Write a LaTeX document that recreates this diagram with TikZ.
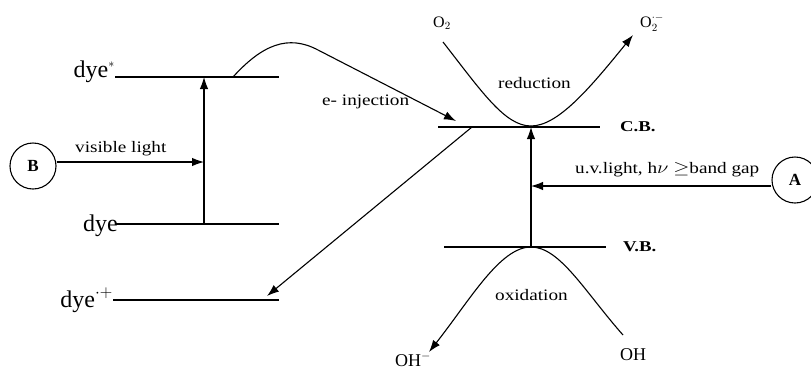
\documentclass[tikz,border=0pt]{standalone}
\usepackage{fontspec}
\setmainfont{Liberation Serif}
\usetikzlibrary{arrows.meta}
\newcommand{\wtxt}[1]{\scalebox{1.2}[1]{#1}}
\tikzset{
  ln/.style={line width=1.1pt},
  arr/.style={ln,-{Latex[length=12pt,width=8.5pt]}},
  small/.style={font=\fontsize{16}{18}\selectfont, inner sep=0pt},
  big/.style={font=\fontsize{24}{26}\selectfont, inner sep=0pt},
  band/.style={font=\fontsize{15}{17}\selectfont\bfseries, inner sep=0pt},
  circ/.style={circle, draw, line width=1.1pt, minimum size=46pt, inner sep=0pt, font=\fontsize{17}{19}\selectfont\bfseries},
  chem/.style={font=\fontsize{16}{18}\selectfont, inner sep=0pt},
}
\begin{document}
\begin{tikzpicture}[x=1pt,y=-1pt]
\useasboundingbox (0,0) rectangle (811,373);
% dye levels
\coordinate (ds1) at (115,77);  \coordinate (ds2) at (279,77);
\coordinate (d1)  at (115,224); \coordinate (d2)  at (279,224);
\coordinate (dp1) at (113,300); \coordinate (dp2) at (279,300);
\draw[ln] (ds1) -- (ds2);
\draw[ln] (d1) -- (d2);
\draw[ln] (dp1) -- (dp2);
\node[big, anchor=base east] (ldstar) at (115,77) {dye$^{\scriptscriptstyle *}$};
\node[big, anchor=base east] (ldye) at (118,231) {dye};
\node[big, anchor=base east] (ldplus) at (113,307) {dye$^{\cdot\scriptstyle +}$};
% excitation
\coordinate (ex0) at (204,224); \coordinate (ex1) at (204,77);
\draw[arr] (ex0) -- (ex1);
\node[circ] (B) at (33,166) {B};
\coordinate (bt) at (204,162);
\draw[arr] (B.east |- bt) -- (bt);
\node[small, anchor=base west] (vis) at (75,152) {\wtxt{visible light}};
% e- injection
\coordinate (inj0) at (233,77);
\coordinate (inj1) at (318,50);
\coordinate (inj2) at (456,121);
\draw[arr] (inj0) .. controls (262,45) and (288,34) .. (inj1) -- (inj2);
\node[small, anchor=base west] (einj) at (322,105) {\wtxt{e- injection}};
% semiconductor bands
\coordinate (cb1) at (438,127); \coordinate (cb2) at (600,127);
\coordinate (vb1) at (444,247); \coordinate (vb2) at (606,247);
\draw[ln] (cb1) -- (cb2);
\draw[ln] (vb1) -- (vb2);
\node[band, anchor=base west] (CB) at (620,131) {\scalebox{1.25}[1]{C.B.}};
\node[band, anchor=base west] (VB) at (623,251) {\scalebox{1.25}[1]{V.B.}};
\coordinate (g0) at (531,247); \coordinate (g1) at (531,127);
\draw[arr] (g0) -- (g1);
\node[circ] (A) at (795,180) {A};
\coordinate (at) at (531,186);
\draw[arr] (A.west |- at) -- (at);
\node[small, anchor=base west] (uv) at (575,173) {\wtxt{u.v.light, h$\nu$ $\geq$band gap}};
% back transfer
\coordinate (bk0) at (472,127); \coordinate (bk1) at (267,296);
\draw[arr] (bk0) -- (bk1);
% reduction
\coordinate (r0) at (443,42); \coordinate (rm) at (531,126); \coordinate (r1) at (633,35);
\draw[ln] (r0) .. controls (482,92) and (505,126) .. (rm);
\draw[arr] (rm) .. controls (558,126) and (590,88) .. (r1);
\node[small, anchor=base west] (red) at (498,88) {\wtxt{reduction}};
\node[chem] (O2) at (442,23) {O$_2$};
\node[chem] (O2m) at (652,23) {O$_2^{\cdot -}$};
% oxidation
\coordinate (o0) at (531,247); \coordinate (o1) at (623,335); \coordinate (o2) at (429,352);
\draw[ln] (o0) .. controls (560,247) and (585,292) .. (o1);
\draw[arr] (o0) .. controls (500,247) and (470,300) .. (o2);
\node[small, anchor=base west] (ox) at (495,300) {\wtxt{oxidation}};
\node[font=\fontsize{18}{20}\selectfont, inner sep=0pt] (OH) at (633,355) {OH};
\node[font=\fontsize{18}{20}\selectfont, inner sep=0pt, anchor=base] (OHm) at (413,366) {OH$^{-}$};
\end{tikzpicture}
\end{document}
